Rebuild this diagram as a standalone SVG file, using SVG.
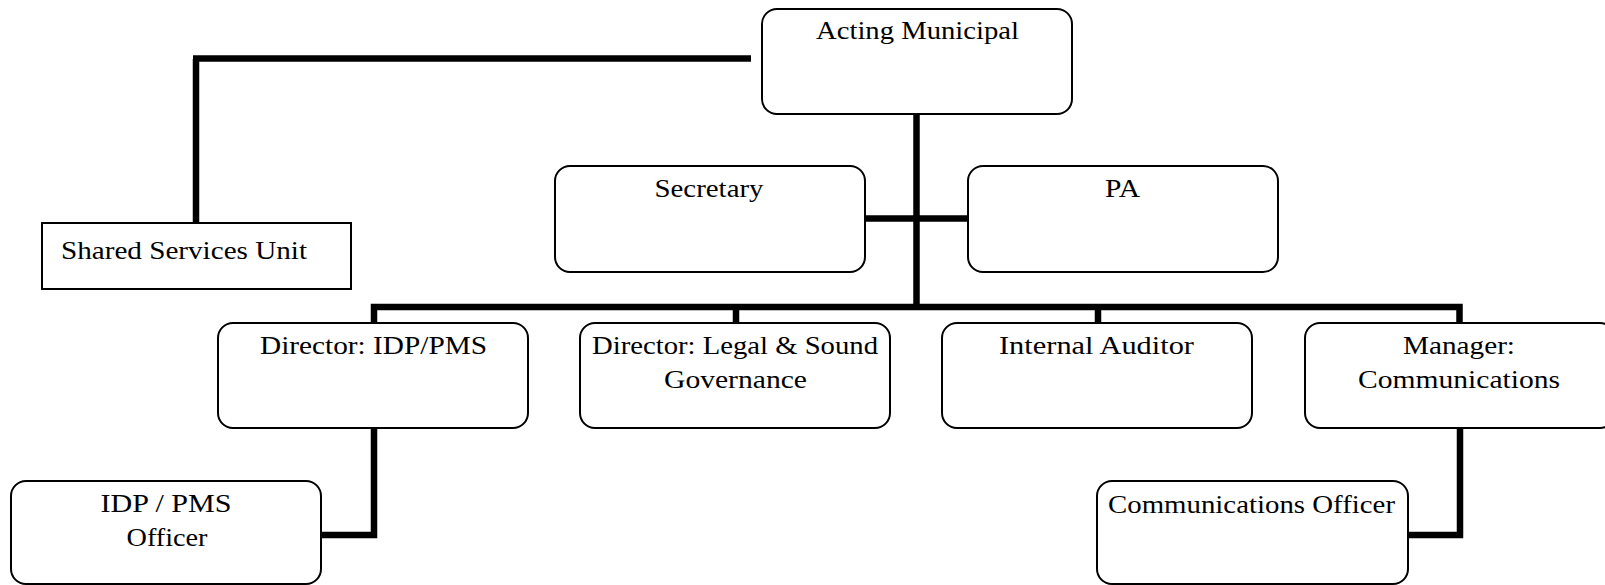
<svg xmlns="http://www.w3.org/2000/svg" width="1605" height="585" viewBox="0 0 1605 585">
  <style>
    .box { fill: #ffffff; stroke: #000000; stroke-width: 2; }
    .lbl { font-family: "Liberation Serif", "Times New Roman", serif; font-size: 25px; fill: #000000; text-anchor: middle; }
    .lbl-start { text-anchor: start; }
    .wire { fill: none; stroke: #000000; stroke-width: 6.5; stroke-linecap: butt; stroke-linejoin: miter; }
  </style>
  <rect width="1605" height="585" fill="#ffffff"/>

  <!-- connectors -->
  <g id="connectors">
    <path class="wire" d="M196 222 V59" stroke-width="6"/>
    <path class="wire" d="M193 58.5 H751" stroke-width="7"/>
    <path class="wire" d="M916.5 114 V310"/>
    <path class="wire" d="M865 218.5 H968"/>
    <path class="wire" d="M374 323 V307 H1459.5 V323"/>
    <path class="wire" d="M736 307 V323"/>
    <path class="wire" d="M1098 307 V323"/>
    <path class="wire" d="M374 428 V535 H321"/>
    <path class="wire" d="M1460 428 V535 H1408"/>
  </g>

  <!-- nodes -->
  <g id="acting-municipal">
    <rect class="box" x="762" y="9" width="310" height="105" rx="15"/>
    <text class="lbl" x="917.5" y="39" textLength="203" lengthAdjust="spacingAndGlyphs">Acting Municipal</text>
  </g>
  <g id="shared-services">
    <rect class="box" x="42" y="223" width="309" height="66"/>
    <text class="lbl lbl-start" x="61" y="259" textLength="246" lengthAdjust="spacingAndGlyphs">Shared Services Unit</text>
  </g>
  <g id="secretary">
    <rect class="box" x="555" y="166" width="310" height="106" rx="15"/>
    <text class="lbl" x="709" y="197" textLength="109" lengthAdjust="spacingAndGlyphs">Secretary</text>
  </g>
  <g id="pa">
    <rect class="box" x="968" y="166" width="310" height="106" rx="15"/>
    <text class="lbl" x="1122.5" y="197" textLength="35" lengthAdjust="spacingAndGlyphs">PA</text>
  </g>
  <g id="director-idp-pms">
    <rect class="box" x="218" y="323" width="310" height="105" rx="15"/>
    <text class="lbl" x="373.5" y="354" textLength="227" lengthAdjust="spacingAndGlyphs">Director: IDP/PMS</text>
  </g>
  <g id="director-legal">
    <rect class="box" x="580" y="323" width="310" height="105" rx="15"/>
    <text class="lbl" x="735" y="354" textLength="286" lengthAdjust="spacingAndGlyphs">Director: Legal &amp; Sound</text>
    <text class="lbl" x="735.5" y="388" textLength="143" lengthAdjust="spacingAndGlyphs">Governance</text>
  </g>
  <g id="internal-auditor">
    <rect class="box" x="942" y="323" width="310" height="105" rx="15"/>
    <text class="lbl" x="1096.5" y="354" textLength="195" lengthAdjust="spacingAndGlyphs">Internal Auditor</text>
  </g>
  <g id="manager-communications">
    <rect class="box" x="1305" y="323" width="310" height="105" rx="15"/>
    <text class="lbl" x="1459" y="354" textLength="112" lengthAdjust="spacingAndGlyphs">Manager:</text>
    <text class="lbl" x="1459" y="388" textLength="202" lengthAdjust="spacingAndGlyphs">Communications</text>
  </g>
  <g id="idp-pms-officer">
    <rect class="box" x="11" y="481" width="310" height="103" rx="15"/>
    <text class="lbl" x="166" y="512" textLength="131" lengthAdjust="spacingAndGlyphs">IDP / PMS</text>
    <text class="lbl" x="167" y="546" textLength="81" lengthAdjust="spacingAndGlyphs">Officer</text>
  </g>
  <g id="communications-officer">
    <rect class="box" x="1097" y="481" width="311" height="103" rx="15"/>
    <text class="lbl" x="1251.5" y="513" textLength="287" lengthAdjust="spacingAndGlyphs">Communications Officer</text>
  </g>
</svg>
